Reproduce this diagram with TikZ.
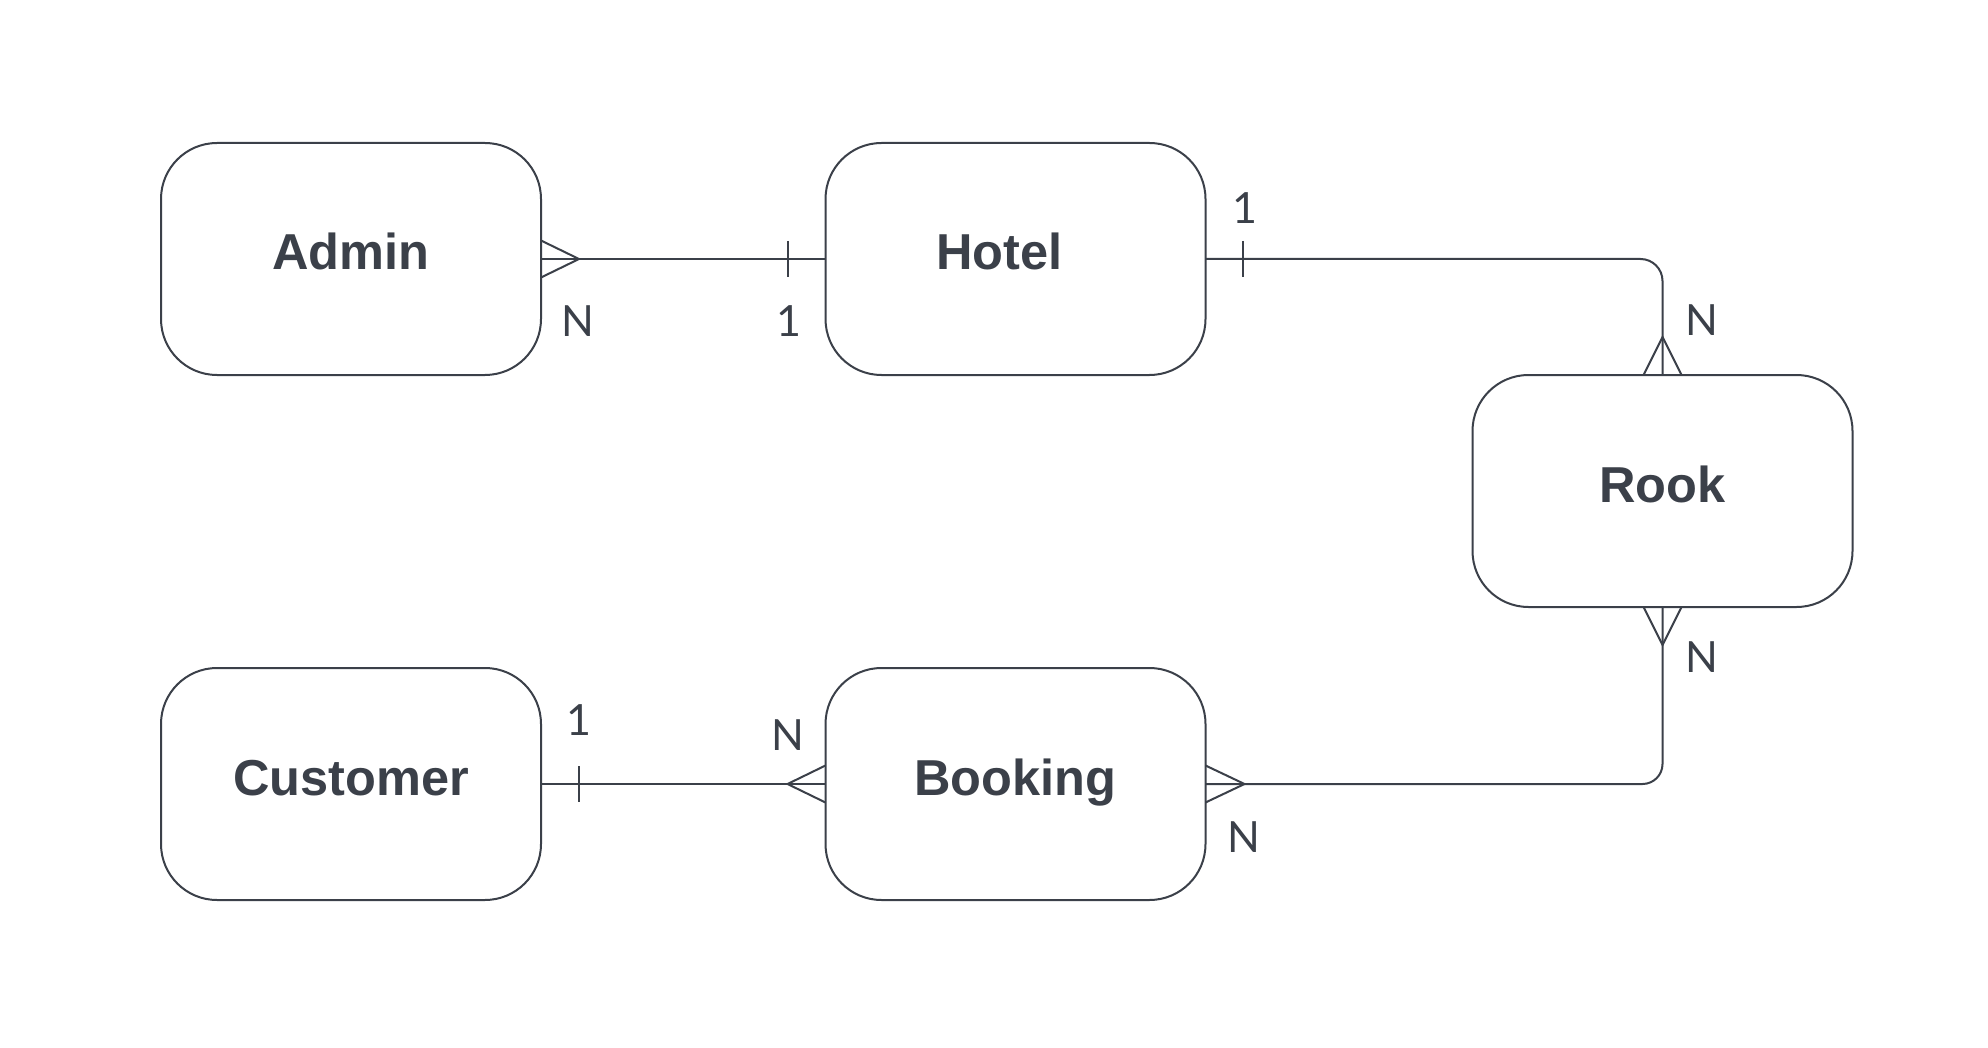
\documentclass[tikz,border=0pt]{standalone}
\usepackage{fontspec}
\setmainfont{Liberation Sans}
\newfontfamily\lblfont{Lato}
\definecolor{ink}{HTML}{3B4049}
\begin{document}
\begin{tikzpicture}[x=1pt,y=-1pt,
  entity/.style={draw=ink, line width=2pt, rounded corners=56pt, minimum width=380pt, minimum height=232pt,
    inner sep=0pt, outer sep=0pt, text=ink, font=\fontsize{50.5}{60}\selectfont\bfseries,
    text height=22pt, text depth=0pt},
  conn/.style={draw=ink, line width=2pt},
  lbl/.style={text=ink, inner sep=0pt, anchor=base, font=\lblfont\fontsize{43}{50}\selectfont}]
\useasboundingbox[fill=white] (0,0) rectangle (1988,1048);

\node[entity] (admin) at (351,259) {Admin};
\node[entity] (hotel) at (1015.5,259) {Hotel\hspace*{32pt}};
\node[entity] (rook) at (1662.5,491) {Rook};
\node[entity] (customer) at (351,784) {Customer};
\node[entity] (booking) at (1015.5,784) {Booking};

% connectors
\draw[conn] (admin.east) -- (hotel.west);
\draw[conn, rounded corners=22pt] (hotel.east) -| (rook.north);
\draw[conn, rounded corners=20pt] (rook.south) |- (booking.east);
\draw[conn] (customer.east) -- (booking.west);

% crow's feet (many)
\draw[conn] (admin.east) ++(0,-18.5) -- ++(38,18.5) -- ++(-38,18.5);
\draw[conn] (rook.north) ++(-19,0) -- ++(19,-38) -- ++(19,38);
\draw[conn] (rook.south) ++(-19,0) -- ++(19,38) -- ++(19,-38);
\draw[conn] (booking.east) ++(0,-18.5) -- ++(39,18.5) -- ++(-39,18.5);
\draw[conn] (booking.west) ++(0,-18.5) -- ++(-38,18.5) -- ++(38,18.5);

% ticks (one)
\draw[conn] (hotel.west) ++(-38,-18) -- ++(0,36);
\draw[conn] (hotel.east) ++(37,-18) -- ++(0,36);
\draw[conn] (customer.east) ++(38,-18) -- ++(0,36);

% labels
\node[lbl] (l1) at (578,337) {N};
\node[lbl] (l2) at (788.5,337) {1};
\node[lbl] (l3) at (1245,224) {1};
\node[lbl] (l4) at (1701.5,335) {N};
\node[lbl] (l5) at (1701.5,672) {N};
\node[lbl] (l6) at (579,735) {1};
\node[lbl] (l7) at (788,750) {N};
\node[lbl] (l8) at (1244,852) {N};
\end{tikzpicture}
\end{document}
